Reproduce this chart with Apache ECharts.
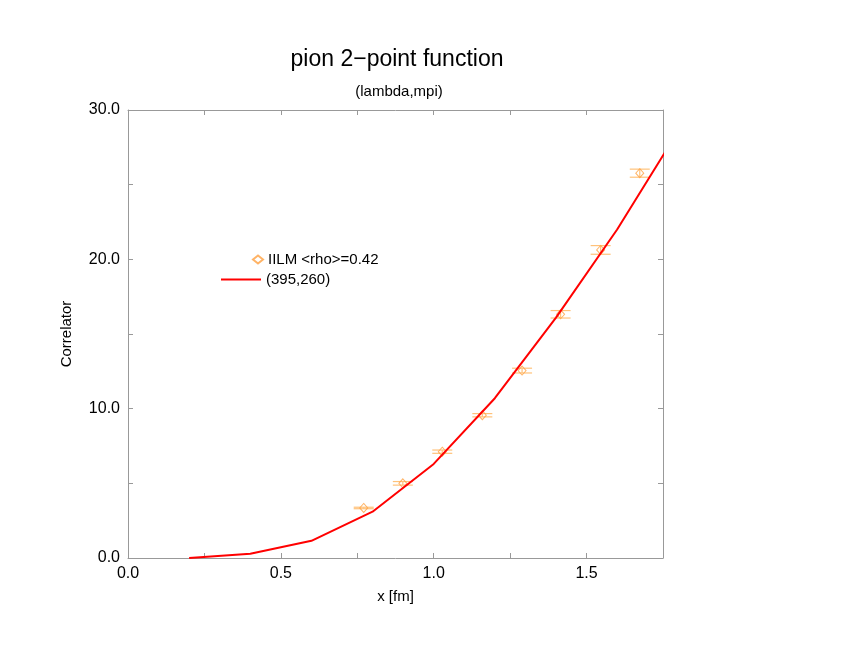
<!DOCTYPE html>
<html>
<head>
<meta charset="utf-8">
<script src="https://cdn.jsdelivr.net/npm/echarts@6/dist/echarts.min.js"></script>
<style>
  html, body { margin: 0; padding: 0; background: #fff; }
  #chart { width: 846px; height: 654px; }
</style>
</head>
<body>
<div id="chart"></div>
<script>
// measured points (IILM)
const pointX = [0.771, 0.899, 1.028, 1.159, 1.289, 1.415, 1.546, 1.674]
const pointY = [3.35, 5.0, 7.12, 9.56, 12.55, 16.32, 20.63, 25.77]
const pointErr = [0.05, 0.12, 0.11, 0.11, 0.16, 0.25, 0.29, 0.27]

// curve (395,260)
const lineX = [0.2, 0.4, 0.6, 0.8, 1.0, 1.2, 1.4, 1.6, 1.8]
const lineY = [0.0, 0.28, 1.15, 3.1, 6.3, 10.7, 16.1, 22.0, 28.6]

const xTicks = [0.0, 0.5, 1.0, 1.5]
const yTicks = [0.0, 10.0, 20.0, 30.0]

const FONT = 'Liberation Sans'
const frameColor = '#999'

const chart = echarts.init(document.getElementById('chart'))

const pts = pointX.map((x, i) => [x, pointY[i], pointErr[i]])
const curve = lineX.map((x, i) => [x, lineY[i]])

const labelFmt = (ticks) => (v) => ticks.includes(v) ? v.toFixed(1) : ''

// shared frame styling, ticks pointing into the plot
const frameAxis = {
  axisLine: { show: true, onZero: false, lineStyle: { color: frameColor, width: 1 } },
  axisTick: { show: true, inside: true, length: 5, lineStyle: { color: frameColor } },
  minorTick: { show: true, splitNumber: 2, length: 5, lineStyle: { color: frameColor } },
  splitLine: { show: false }
}

const options = {
  backgroundColor: '#fff',
  animation: false,
  title: [
    {
      text: 'pion 2\u2212point function',
      left: 392,
      top: 43,
      textAlign: 'center',
      textStyle: { fontFamily: FONT, fontSize: 23, fontWeight: 'normal', color: '#000' }
    },
    {
      text: '(lambda,mpi)',
      left: 394,
      top: 79,
      textAlign: 'center',
      textStyle: { fontFamily: FONT, fontSize: 15, fontWeight: 'normal', color: '#000' }
    }
  ],
  legend: [
    {
      data: ['IILM <rho>=0.42'],
      left: 252,
      top: 252,
      padding: 0,
      itemWidth: 10,
      itemHeight: 8,
      textStyle: { fontFamily: FONT, fontSize: 15, color: '#000' }
    },
    {
      data: ['(395,260)'],
      left: 220,
      top: 272,
      padding: 0,
      itemWidth: 40,
      itemHeight: 14,
      itemStyle: { opacity: 0 },
      lineStyle: { color: '#ff0000', width: 2 },
      textStyle: { fontFamily: FONT, fontSize: 15, color: '#000' }
    }
  ],
  grid: {
    left: 128,
    right: 183,
    top: 110,
    bottom: 96
  },
  xAxis: [
    {
      type: 'value',
      min: 0,
      max: 1.75,
      interval: 0.5,
      name: 'x [fm]',
      nameLocation: 'middle',
      nameGap: 31,
      nameTextStyle: { fontFamily: FONT, fontSize: 15, color: '#000' },
      ...frameAxis,
      axisLabel: {
        margin: 8,
        fontFamily: FONT,
        fontSize: 16,
        color: '#000',
        formatter: labelFmt(xTicks)
      }
    },
    {
      type: 'value',
      position: 'top',
      min: 0,
      max: 1.75,
      interval: 0.5,
      ...frameAxis,
      axisLabel: { show: false }
    }
  ],
  yAxis: [
    {
      type: 'value',
      min: 0,
      max: 30,
      interval: 10,
      name: 'Correlator',
      nameLocation: 'middle',
      nameGap: 54,
      nameRotate: 90,
      nameTextStyle: { fontFamily: FONT, fontSize: 15, color: '#000' },
      ...frameAxis,
      axisLabel: {
        margin: 8,
        fontFamily: FONT,
        fontSize: 16,
        color: '#000',
        formatter: labelFmt(yTicks)
      }
    },
    {
      type: 'value',
      position: 'right',
      min: 0,
      max: 30,
      interval: 10,
      ...frameAxis,
      axisLabel: { show: false }
    }
  ],
  series: [
    {
      name: 'errors',
      type: 'custom',
      data: pts,
      z: 2,
      renderItem: (params, api) => {
        const x = api.value(0)
        const y = api.value(1)
        const e = api.value(2)
        const top = api.coord([x, y + e])
        const bot = api.coord([x, y - e])
        const hw = 10
        const style = { stroke: '#ffc27a', lineWidth: 1.2 }
        return {
          type: 'group',
          children: [
            { type: 'line', shape: { x1: top[0], y1: top[1], x2: bot[0], y2: bot[1] }, style },
            { type: 'line', shape: { x1: top[0] - hw, y1: top[1], x2: top[0] + hw, y2: top[1] }, style },
            { type: 'line', shape: { x1: bot[0] - hw, y1: bot[1], x2: bot[0] + hw, y2: bot[1] }, style }
          ]
        }
      }
    },
    {
      name: 'IILM <rho>=0.42',
      type: 'scatter',
      data: pts.map(p => [p[0], p[1]]),
      symbol: 'diamond',
      symbolSize: [8, 9],
      z: 3,
      itemStyle: { color: 'rgba(255,255,255,0)', borderColor: '#ffa040', borderWidth: 1 }
    },
    {
      name: '(395,260)',
      type: 'line',
      data: curve,
      symbol: 'none',
      clip: true,
      z: 4,
      lineStyle: { color: '#ff0000', width: 2 },
      itemStyle: { color: '#ff0000' }
    }
  ]
}

chart.setOption(options)
</script>
</body>
</html>
